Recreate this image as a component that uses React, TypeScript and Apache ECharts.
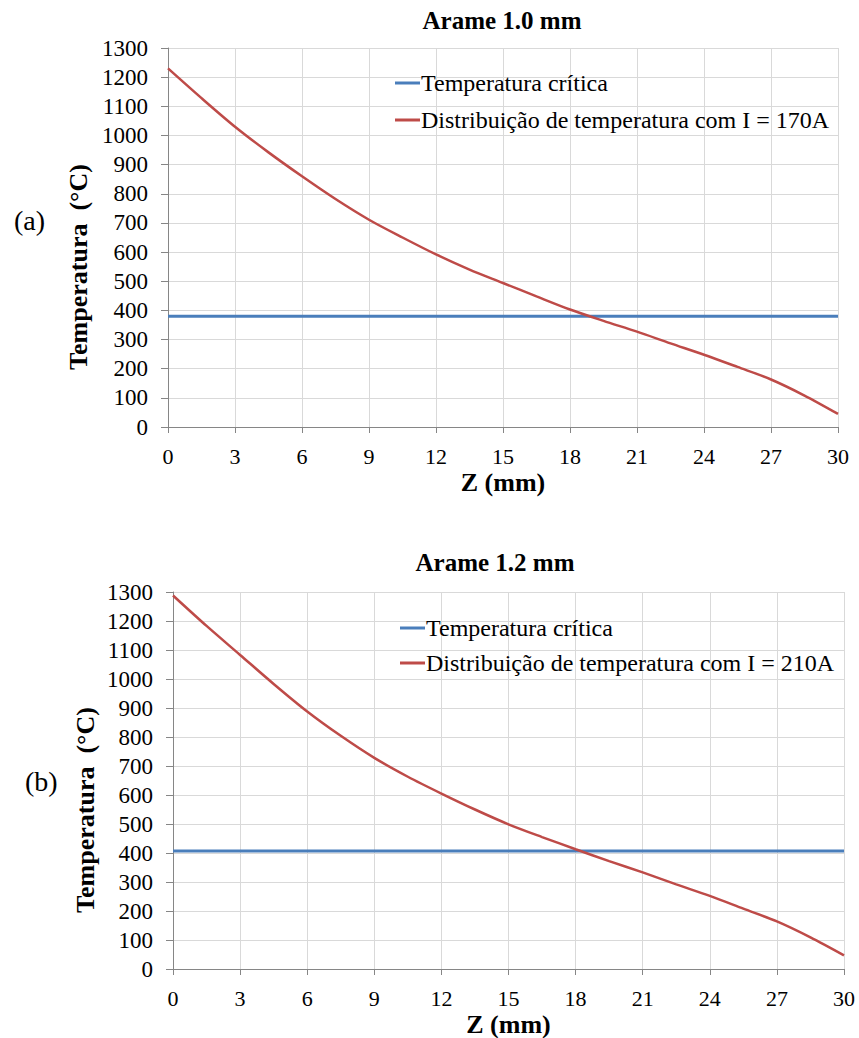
import React, { useEffect, useRef } from "react";
import * as echarts from "echarts";

const zTicks = [0, 3, 6, 9, 12, 15, 18, 21, 24, 27, 30];

const zA = [0, 1.5, 3, 4.5, 6, 7.5, 9, 10.5, 12, 13.5, 15, 16.5, 18, 19.5, 21, 22.5, 24, 25.5, 27, 28.5, 30];
const tempA = [1230, 1128, 1030, 942, 860, 782, 711, 650, 592, 540, 494, 448, 403, 364, 327, 287, 248, 206, 163, 108, 45];
const criticalA = 380;

const zB = [0, 1.5, 3, 4.5, 6, 7.5, 9, 10.5, 12, 13.5, 15, 16.5, 18, 19.5, 21, 22.5, 24, 25.5, 27, 28.5, 30];
const tempB = [1288, 1183, 1083, 983, 888, 804, 728, 663, 605, 550, 499, 455, 413, 372, 333, 292, 252, 208, 164, 109, 47];
const criticalB = 407;

const nameCrit = "Temperatura crítica";
const nameA = "Distribuição de temperatura com I = 170A";
const nameB = "Distribuição de temperatura com I = 210A";
const yName = "Temperatura  (°C)";

const FONT = "Liberation Serif";
const BLUE = "#4a7ebb";
const RED = "#be4b48";

function axisX(gridIndex: number) {
  return {
    type: "value",
    gridIndex,
    min: 0,
    max: 30,
    interval: 3,
    name: "Z (mm)",
    nameLocation: "middle",
    nameGap: 42,
    nameTextStyle: { fontFamily: FONT, fontSize: 26, fontWeight: "bold", color: "#000" },
    axisLine: { show: true, lineStyle: { color: "#868686", width: 1 } },
    axisTick: { show: true, inside: false, length: 6, lineStyle: { color: "#868686" } },
    axisLabel: {
      fontFamily: FONT,
      fontSize: 22,
      color: "#000",
      margin: 18,
      formatter: (v: number) => String(v),
    },
    splitLine: { show: true, lineStyle: { color: "#d9d9d9", width: 1 } },
  };
}

function axisY(gridIndex: number) {
  return {
    type: "value",
    gridIndex,
    min: 0,
    max: 1300,
    interval: 100,
    axisLine: { show: true, lineStyle: { color: "#868686", width: 1 } },
    axisTick: { show: true, inside: false, length: 7, lineStyle: { color: "#868686" } },
    axisLabel: {
      fontFamily: FONT,
      fontSize: 23,
      color: "#000",
      margin: 20,
      formatter: (v: number) => String(v),
    },
    splitLine: { show: true, lineStyle: { color: "#d9d9d9", width: 1 } },
  };
}

export default function App() {
  const ref = useRef<HTMLDivElement>(null);
  useEffect(() => {
    if (!ref.current) return;
    const chart = echarts.init(ref.current, undefined, { renderer: "svg" });
    const pairs = (xs: number[], ys: number[]) => xs.map((x, i) => [x, ys[i]]);
    chart.setOption({
      animation: false,
      backgroundColor: "#fff",
      textStyle: { fontFamily: FONT },
      title: [
        {
          text: "Arame 1.0 mm",
          left: 497,
          top: 3,
          textAlign: "center",
          textStyle: { fontFamily: FONT, fontSize: 25, fontWeight: "bold", color: "#000" },
        },
        {
          text: "Arame 1.2 mm",
          left: 490,
          top: 545,
          textAlign: "center",
          textStyle: { fontFamily: FONT, fontSize: 25, fontWeight: "bold", color: "#000" },
        },
      ],
      legend: [
        {
          orient: "vertical",
          left: 390,
          top: 66,
          itemGap: 13,
          itemWidth: 25,
          itemHeight: 3,
          icon: "rect",
          data: [nameCrit, nameA],
          textStyle: { fontFamily: FONT, fontSize: 24, color: "#000", padding: [0, 0, 0, -4] },
        },
        {
          orient: "vertical",
          left: 395,
          top: 611,
          itemGap: 11,
          itemWidth: 25,
          itemHeight: 3,
          icon: "rect",
          data: [nameCrit, nameB],
          textStyle: { fontFamily: FONT, fontSize: 24, color: "#000", padding: [0, 0, 0, -4] },
        },
      ],
      grid: [
        { left: 168, right: 21, top: 48, height: 379 },
        { left: 173, right: 15, top: 592, height: 378 },
      ],
      xAxis: [axisX(0), axisX(1)],
      yAxis: [axisY(0), axisY(1)],
      graphic: [
        {
          type: "text",
          left: 14,
          top: 206,
          style: { text: "(a)", fontFamily: FONT, fontSize: 28, fill: "#000" },
        },
        {
          type: "text",
          left: 25,
          top: 767,
          style: { text: "(b)", fontFamily: FONT, fontSize: 28, fill: "#000" },
        },
        {
          type: "text",
          x: 78,
          y: 267,
          rotation: Math.PI / 2,
          style: {
            text: yName,
            fontFamily: FONT,
            fontSize: 26,
            fontWeight: "bold",
            fill: "#000",
            align: "center",
            verticalAlign: "middle",
          },
        },
        {
          type: "text",
          x: 85,
          y: 810,
          rotation: Math.PI / 2,
          style: {
            text: yName,
            fontFamily: FONT,
            fontSize: 26,
            fontWeight: "bold",
            fill: "#000",
            align: "center",
            verticalAlign: "middle",
          },
        },
      ],
      series: [
        {
          name: nameCrit,
          type: "line",
          xAxisIndex: 0,
          yAxisIndex: 0,
          data: pairs([0, 30], [criticalA, criticalA]),
          symbol: "none",
          color: BLUE,
          lineStyle: { color: BLUE, width: 3 },
        },
        {
          name: nameA,
          type: "line",
          xAxisIndex: 0,
          yAxisIndex: 0,
          data: pairs(zA, tempA),
          smooth: 0.3,
          symbol: "none",
          color: RED,
          lineStyle: { color: RED, width: 2.5 },
        },
        {
          name: nameCrit,
          type: "line",
          xAxisIndex: 1,
          yAxisIndex: 1,
          data: pairs([0, 30], [criticalB, criticalB]),
          symbol: "none",
          color: BLUE,
          lineStyle: { color: BLUE, width: 3 },
        },
        {
          name: nameB,
          type: "line",
          xAxisIndex: 1,
          yAxisIndex: 1,
          data: pairs(zB, tempB),
          smooth: 0.3,
          symbol: "none",
          color: RED,
          lineStyle: { color: RED, width: 2.5 },
        },
      ],
    });
    return () => chart.dispose();
  }, []);
  return (
    <div
      ref={ref}
      style={{ position: "absolute", left: 0, top: 0, width: 859, height: 1038, background: "#fff" }}
    />
  );
}
